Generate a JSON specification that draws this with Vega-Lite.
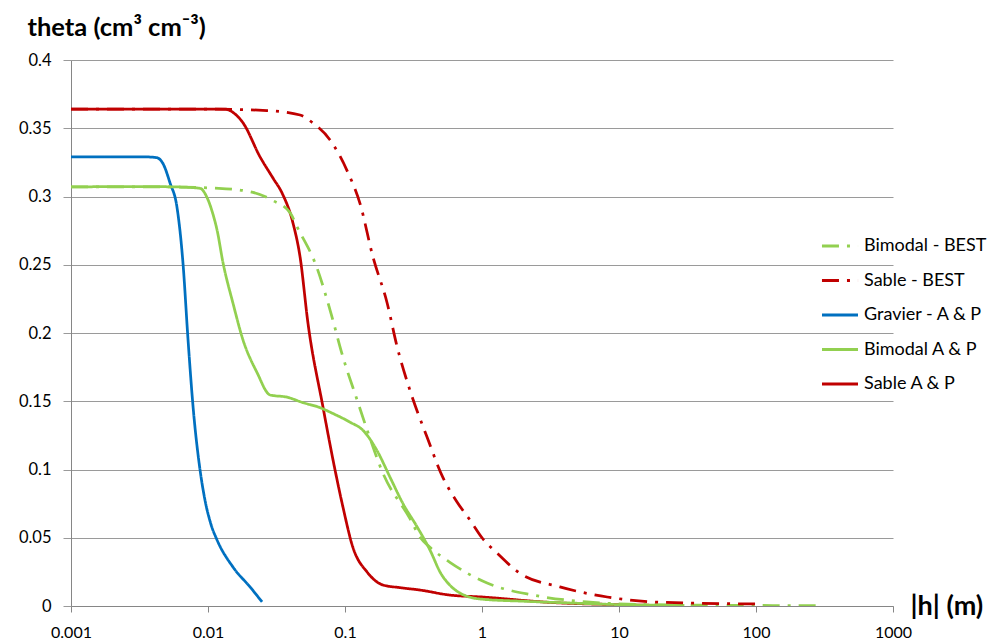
{
  "$schema": "https://vega.github.io/schema/vega-lite/v6.json",
  "width": 822,
  "height": 546,
  "autosize": "none",
  "padding": {"left": 71, "top": 60, "right": 102, "bottom": 37},
  "config": {"view": {"stroke": null}, "font": "Lato"},
  "data": {
    "values": [
      {"series": "Gravier - A & P", "h": 0.001, "theta": 0.329},
      {"series": "Gravier - A & P", "h": 0.002, "theta": 0.329},
      {"series": "Gravier - A & P", "h": 0.0035, "theta": 0.329},
      {"series": "Gravier - A & P", "h": 0.0042, "theta": 0.3285},
      {"series": "Gravier - A & P", "h": 0.0047, "theta": 0.324},
      {"series": "Gravier - A & P", "h": 0.00528, "theta": 0.31},
      {"series": "Gravier - A & P", "h": 0.00594, "theta": 0.292},
      {"series": "Gravier - A & P", "h": 0.00657, "theta": 0.251},
      {"series": "Gravier - A & P", "h": 0.00715, "theta": 0.195},
      {"series": "Gravier - A & P", "h": 0.00778, "theta": 0.146},
      {"series": "Gravier - A & P", "h": 0.00875, "theta": 0.0996},
      {"series": "Gravier - A & P", "h": 0.0095, "theta": 0.0777},
      {"series": "Gravier - A & P", "h": 0.0105, "theta": 0.06},
      {"series": "Gravier - A & P", "h": 0.01164, "theta": 0.0484},
      {"series": "Gravier - A & P", "h": 0.0152, "theta": 0.0286},
      {"series": "Gravier - A & P", "h": 0.0203, "theta": 0.0139},
      {"series": "Gravier - A & P", "h": 0.0248, "theta": 0.003},

      {"series": "Sable A & P", "h": 0.001, "theta": 0.364},
      {"series": "Sable A & P", "h": 0.005, "theta": 0.364},
      {"series": "Sable A & P", "h": 0.0133, "theta": 0.364},
      {"series": "Sable A & P", "h": 0.0155, "theta": 0.361},
      {"series": "Sable A & P", "h": 0.018, "theta": 0.354},
      {"series": "Sable A & P", "h": 0.024, "theta": 0.329},
      {"series": "Sable A & P", "h": 0.0298, "theta": 0.3135},
      {"series": "Sable A & P", "h": 0.0347, "theta": 0.3026},
      {"series": "Sable A & P", "h": 0.0417, "theta": 0.2806},
      {"series": "Sable A & P", "h": 0.047, "theta": 0.2557},
      {"series": "Sable A & P", "h": 0.0537, "theta": 0.207},
      {"series": "Sable A & P", "h": 0.069, "theta": 0.146},
      {"series": "Sable A & P", "h": 0.0846, "theta": 0.0996},
      {"series": "Sable A & P", "h": 0.0966, "theta": 0.0725},
      {"series": "Sable A & P", "h": 0.114, "theta": 0.0432},
      {"series": "Sable A & P", "h": 0.145, "theta": 0.0249},
      {"series": "Sable A & P", "h": 0.189, "theta": 0.0154},
      {"series": "Sable A & P", "h": 0.25, "theta": 0.0135},
      {"series": "Sable A & P", "h": 0.352, "theta": 0.0117},
      {"series": "Sable A & P", "h": 0.583, "theta": 0.008},
      {"series": "Sable A & P", "h": 1.0, "theta": 0.0066},
      {"series": "Sable A & P", "h": 3.3, "theta": 0.0025},
      {"series": "Sable A & P", "h": 10, "theta": 0.001},
      {"series": "Sable A & P", "h": 27, "theta": 0.0002},

      {"series": "Bimodal A & P", "h": 0.001, "theta": 0.307},
      {"series": "Bimodal A & P", "h": 0.003, "theta": 0.3073},
      {"series": "Bimodal A & P", "h": 0.006, "theta": 0.307},
      {"series": "Bimodal A & P", "h": 0.00875, "theta": 0.306},
      {"series": "Bimodal A & P", "h": 0.0098, "theta": 0.2996},
      {"series": "Bimodal A & P", "h": 0.0108, "theta": 0.288},
      {"series": "Bimodal A & P", "h": 0.01164, "theta": 0.2755},
      {"series": "Bimodal A & P", "h": 0.0129, "theta": 0.251},
      {"series": "Bimodal A & P", "h": 0.0152, "theta": 0.222},
      {"series": "Bimodal A & P", "h": 0.018, "theta": 0.195},
      {"series": "Bimodal A & P", "h": 0.0228, "theta": 0.171},
      {"series": "Bimodal A & P", "h": 0.0284, "theta": 0.1546},
      {"series": "Bimodal A & P", "h": 0.0377, "theta": 0.153},
      {"series": "Bimodal A & P", "h": 0.0493, "theta": 0.149},
      {"series": "Bimodal A & P", "h": 0.065, "theta": 0.1455},
      {"series": "Bimodal A & P", "h": 0.0817, "theta": 0.141},
      {"series": "Bimodal A & P", "h": 0.1087, "theta": 0.1347},
      {"series": "Bimodal A & P", "h": 0.135, "theta": 0.1288},
      {"series": "Bimodal A & P", "h": 0.171, "theta": 0.114},
      {"series": "Bimodal A & P", "h": 0.213, "theta": 0.0944},
      {"series": "Bimodal A & P", "h": 0.265, "theta": 0.075},
      {"series": "Bimodal A & P", "h": 0.336, "theta": 0.058},
      {"series": "Bimodal A & P", "h": 0.417, "theta": 0.041},
      {"series": "Bimodal A & P", "h": 0.5, "theta": 0.024},
      {"series": "Bimodal A & P", "h": 0.6, "theta": 0.014},
      {"series": "Bimodal A & P", "h": 0.69, "theta": 0.0095},
      {"series": "Bimodal A & P", "h": 0.85, "theta": 0.006},
      {"series": "Bimodal A & P", "h": 1.0, "theta": 0.005},
      {"series": "Bimodal A & P", "h": 2, "theta": 0.0035},
      {"series": "Bimodal A & P", "h": 5, "theta": 0.002},
      {"series": "Bimodal A & P", "h": 10, "theta": 0.001},
      {"series": "Bimodal A & P", "h": 30, "theta": 0.0004},

      {"series": "Bimodal - BEST", "h": 0.001, "theta": 0.307},
      {"series": "Bimodal - BEST", "h": 0.005, "theta": 0.307},
      {"series": "Bimodal - BEST", "h": 0.012, "theta": 0.306},
      {"series": "Bimodal - BEST", "h": 0.0213, "theta": 0.303},
      {"series": "Bimodal - BEST", "h": 0.0298, "theta": 0.297},
      {"series": "Bimodal - BEST", "h": 0.0398, "theta": 0.288},
      {"series": "Bimodal - BEST", "h": 0.0447, "theta": 0.2777},
      {"series": "Bimodal - BEST", "h": 0.0625, "theta": 0.2476},
      {"series": "Bimodal - BEST", "h": 0.0778, "theta": 0.2168},
      {"series": "Bimodal - BEST", "h": 0.0966, "theta": 0.1824},
      {"series": "Bimodal - BEST", "h": 0.1225, "theta": 0.151},
      {"series": "Bimodal - BEST", "h": 0.145, "theta": 0.129},
      {"series": "Bimodal - BEST", "h": 0.189, "theta": 0.0974},
      {"series": "Bimodal - BEST", "h": 0.298, "theta": 0.064},
      {"series": "Bimodal - BEST", "h": 0.352, "theta": 0.0505},
      {"series": "Bimodal - BEST", "h": 0.417, "theta": 0.043},
      {"series": "Bimodal - BEST", "h": 0.583, "theta": 0.032},
      {"series": "Bimodal - BEST", "h": 1.09, "theta": 0.0168},
      {"series": "Bimodal - BEST", "h": 2.36, "theta": 0.008},
      {"series": "Bimodal - BEST", "h": 5.8, "theta": 0.003},
      {"series": "Bimodal - BEST", "h": 17.6, "theta": 0.001},
      {"series": "Bimodal - BEST", "h": 100, "theta": 0.0004},
      {"series": "Bimodal - BEST", "h": 290, "theta": 0.0002},

      {"series": "Sable - BEST", "h": 0.001, "theta": 0.364},
      {"series": "Sable - BEST", "h": 0.01, "theta": 0.364},
      {"series": "Sable - BEST", "h": 0.027, "theta": 0.363},
      {"series": "Sable - BEST", "h": 0.047, "theta": 0.3597},
      {"series": "Sable - BEST", "h": 0.058, "theta": 0.354},
      {"series": "Sable - BEST", "h": 0.0778, "theta": 0.3414},
      {"series": "Sable - BEST", "h": 0.1035, "theta": 0.319},
      {"series": "Sable - BEST", "h": 0.1286, "theta": 0.295},
      {"series": "Sable - BEST", "h": 0.16, "theta": 0.2557},
      {"series": "Sable - BEST", "h": 0.203, "theta": 0.222},
      {"series": "Sable - BEST", "h": 0.24, "theta": 0.19},
      {"series": "Sable - BEST", "h": 0.298, "theta": 0.158},
      {"series": "Sable - BEST", "h": 0.397, "theta": 0.1238},
      {"series": "Sable - BEST", "h": 0.519, "theta": 0.094},
      {"series": "Sable - BEST", "h": 0.65, "theta": 0.077},
      {"series": "Sable - BEST", "h": 0.83, "theta": 0.062},
      {"series": "Sable - BEST", "h": 1.0, "theta": 0.05},
      {"series": "Sable - BEST", "h": 1.29, "theta": 0.0388},
      {"series": "Sable - BEST", "h": 1.89, "theta": 0.024},
      {"series": "Sable - BEST", "h": 3.7, "theta": 0.014},
      {"series": "Sable - BEST", "h": 8.2, "theta": 0.0066},
      {"series": "Sable - BEST", "h": 17.6, "theta": 0.003},
      {"series": "Sable - BEST", "h": 40, "theta": 0.002},
      {"series": "Sable - BEST", "h": 100, "theta": 0.0015}
    ]
  },
  "mark": {"type": "line", "interpolate": "monotone", "strokeWidth": 2.75, "clip": true},
  "encoding": {
    "x": {
      "field": "h",
      "type": "quantitative",
      "scale": {"type": "log", "domain": [0.001, 1000]},
      "axis": {
        "values": [0.001, 0.01, 0.1, 1, 10, 100, 1000],
        "format": "~g",
        "grid": false,
        "labelFlush": false,
        "tickSize": 6,
        "labelPadding": 12,
        "domainColor": "#868686",
        "tickColor": "#868686",
        "labelFontSize": 16,
        "labelColor": "#000000",
        "title": "|h| (m)",
        "titleFontSize": 27,
        "titleFontWeight": "bold",
        "titleColor": "#000000",
        "titleX": 839,
        "titleY": 0,
        "titleAlign": "left",
        "titleBaseline": "middle"
      }
    },
    "y": {
      "field": "theta",
      "type": "quantitative",
      "scale": {"domain": [0, 0.4]},
      "axis": {
        "values": [0, 0.05, 0.1, 0.15, 0.2, 0.25, 0.3, 0.35, 0.4],
        "format": "~g",
        "grid": true,
        "gridColor": "#9a9a9a",
        "gridWidth": 1,
        "labelFlush": false,
        "tickSize": 8,
        "labelPadding": 12,
        "domainColor": "#868686",
        "tickColor": "#9a9a9a",
        "labelFontSize": 16.5,
        "labelColor": "#000000",
        "title": "theta (cm³ cm⁻³)",
        "titleFontSize": 25.5,
        "titleFontWeight": "bold",
        "titleColor": "#000000",
        "titleAngle": 0,
        "titleX": -44,
        "titleY": -25,
        "titleAlign": "left",
        "titleBaseline": "alphabetic"
      }
    },
    "color": {
      "field": "series",
      "type": "nominal",
      "scale": {
        "domain": ["Bimodal - BEST", "Sable - BEST", "Gravier - A & P", "Bimodal A & P", "Sable A & P"],
        "range": ["#92D050", "#C00000", "#0070C0", "#92D050", "#C00000"]
      },
      "legend": {
        "title": null,
        "orient": "none",
        "legendX": 749,
        "legendY": 166,
        "padding": 0,
        "symbolType": "stroke",
        "symbolSize": 1300,
        "symbolStrokeWidth": 3,
        "labelFontSize": 18,
        "labelColor": "#000000",
        "labelOffset": 4,
        "rowPadding": 5.5
      }
    },
    "strokeDash": {
      "field": "series",
      "type": "nominal",
      "scale": {
        "domain": ["Bimodal - BEST", "Sable - BEST", "Gravier - A & P", "Bimodal A & P", "Sable A & P"],
        "range": [[17, 8, 3, 8], [17, 8, 3, 8], [1, 0], [1, 0], [1, 0]]
      },
      "legend": {
        "title": null,
        "orient": "none",
        "legendX": 749,
        "legendY": 166,
        "padding": 0,
        "symbolType": "stroke",
        "symbolSize": 1300,
        "symbolStrokeWidth": 3,
        "labelFontSize": 18,
        "labelColor": "#000000",
        "labelOffset": 4,
        "rowPadding": 5.5
      }
    }
  }
}
